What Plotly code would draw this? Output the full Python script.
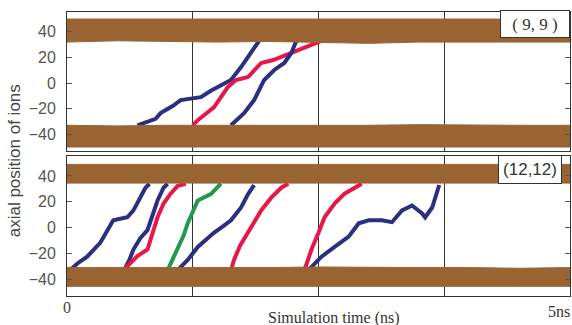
import plotly.graph_objects as go

# ---------------- data ----------------
# Panel (9,9): time (ns) and axial position of moving ions
t99_navy1 = [0.70, 0.80, 0.88, 0.93, 1.05, 1.13, 1.23, 1.33, 1.43, 1.53, 1.63, 1.73, 1.83, 1.91]
z99_navy1 = [-33, -30, -28, -23.5, -18, -13.3, -11.8, -11, -6, -1.6, 2.4, 12.5, 23.5, 33]
t99_red = [1.25, 1.30, 1.38, 1.46, 1.53, 1.60, 1.68, 1.80, 1.93, 2.05, 2.13, 2.30, 2.46, 2.56]
z99_red = [-33, -29, -24, -19, -11, -3, 2.4, 4.7, 15.7, 18, 20.4, 25.9, 31.4, 34]
t99_navy2 = [1.63, 1.70, 1.76, 1.86, 1.96, 2.06, 2.16, 2.23, 2.28]
z99_navy2 = [-33, -28, -23.5, -13.3, 2.4, 10.2, 15.7, 23.5, 33]

# Panel (12,12)
t12_navyA = [0.03, 0.10, 0.20, 0.33, 0.46, 0.53, 0.60, 0.66, 0.73, 0.78, 0.82]
z12_navyA = [-33, -28, -22.5, -11.8, 5.7, 7.2, 8, 13.3, 23.2, 30.9, 34]
t12_navyB = [0.58, 0.62, 0.66, 0.73, 0.80, 0.90, 0.96, 1.00]
z12_navyB = [-31, -25, -17, -8, -2, 21, 30.9, 34]
t12_redA = [0.56, 0.62, 0.70, 0.80, 0.86, 0.90, 0.96, 1.03, 1.10, 1.18]
z12_redA = [-33, -28, -22, -17, -2, 8, 18.7, 26.3, 32.4, 34]
t12_greenA = [1.00, 1.05, 1.10, 1.16, 1.20, 1.30, 1.43, 1.53]
z12_greenA = [-33, -24, -15, -6, 3.4, 21, 26, 34]
t12_navyC = [1.10, 1.20, 1.30, 1.38, 1.46, 1.55, 1.63, 1.73, 1.80, 1.86]
z12_navyC = [-33, -25, -15, -9, -4, 1, 5.7, 15.6, 26, 33]
t12_redB = [1.63, 1.66, 1.72, 1.80, 1.86, 1.93, 2.03, 2.13, 2.20]
z12_redB = [-33, -25, -14, -4, 3.4, 13.3, 23.2, 30.9, 34]
t12_redC = [2.36, 2.43, 2.50, 2.56, 2.66, 2.76, 2.86, 2.93]
z12_redC = [-33, -17, -4, 8, 18.7, 26.3, 30.9, 34]
t12_navyD = [2.40, 2.53, 2.66, 2.80, 2.90, 3.00, 3.13, 3.23, 3.33, 3.43, 3.53, 3.56, 3.63, 3.70]
z12_navyD = [-33, -22.5, -15, -7, 3.4, 5.7, 5.7, 4.2, 13.3, 17.1, 11, 8, 15.6, 33]

# Bound ions (brown bands): upper / lower edges over time
band_t = [0, 0.5, 1.0, 1.5, 2.0, 2.5, 3.0, 3.5, 4.0, 4.5, 5.0]
p1_top_hi = [50, 50, 50.5, 50, 50, 50.5, 50, 50, 50.5, 50, 50]
p1_top_lo = [32, 33, 32.5, 32, 32.5, 32, 31, 32, 31.5, 32, 32]
p1_bot_hi = [-33, -33.5, -33, -33, -33.5, -33, -33, -32.5, -33, -33, -33]
p1_bot_lo = [-50, -50, -50.5, -50, -50, -50, -50, -50.5, -50, -50, -50]
p2_top_hi = [49, 49, 48.5, 49, 49, 49, 48.5, 49, 49, 49, 49]
p2_top_lo = [34.5, 34, 34.5, 34.5, 34, 34.5, 34.5, 34, 34.5, 34.5, 34.5]
p2_bot_hi = [-31, -31, -31.5, -31, -31, -30.5, -31, -31, -31, -31.5, -31]
p2_bot_lo = [-45.5, -45.5, -45, -45.5, -45.5, -45.5, -45, -45.5, -45.5, -45.5, -45.5]

y_ticks = [-40, -20, 0, 20, 40]
x_grid = [1.25, 2.5, 3.75]

NAVY = "#2a2f80"
RED = "#e8174a"
GREEN = "#1f9a4e"
BROWN = "#9a6332"

fig = go.Figure()

def traj(t, z, color, ax):
    fig.add_trace(go.Scatter(x=t, y=z, mode="lines", line=dict(color=color, width=4),
                             xaxis=ax[0], yaxis=ax[1], showlegend=False, hoverinfo="skip"))

def band(hi, lo, ax):
    fig.add_trace(go.Scatter(x=band_t + band_t[::-1], y=hi + lo[::-1], mode="lines",
                             fill="toself", fillcolor=BROWN, line=dict(color=BROWN, width=1),
                             xaxis=ax[0], yaxis=ax[1], showlegend=False, hoverinfo="skip"))

A1 = ("x", "y")
A2 = ("x2", "y2")
traj(t99_navy1, z99_navy1, NAVY, A1)
traj(t99_red, z99_red, RED, A1)
traj(t99_navy2, z99_navy2, NAVY, A1)
band(p1_top_hi, p1_top_lo, A1)
band(p1_bot_hi, p1_bot_lo, A1)

traj(t12_navyA, z12_navyA, NAVY, A2)
traj(t12_navyB, z12_navyB, NAVY, A2)
traj(t12_redA, z12_redA, RED, A2)
traj(t12_greenA, z12_greenA, GREEN, A2)
traj(t12_navyC, z12_navyC, NAVY, A2)
traj(t12_redB, z12_redB, RED, A2)
traj(t12_redC, z12_redC, RED, A2)
traj(t12_navyD, z12_navyD, NAVY, A2)
band(p2_top_hi, p2_top_lo, A2)
band(p2_bot_hi, p2_bot_lo, A2)

tickfont = dict(family="Liberation Sans, Arial, sans-serif", size=16, color="#555")
xcommon = dict(range=[0, 5], tickvals=x_grid, showticklabels=False, showgrid=True,
               gridcolor="#333", gridwidth=1, showline=True, mirror=True, linecolor="#333",
               linewidth=1, zeroline=False, ticks="")
ycommon = dict(range=[-53, 55.5], tickvals=y_ticks, ticks="inside", ticklen=5, tickcolor="#555",
               showline=True, mirror="ticks", linecolor="#333", linewidth=1, showgrid=False,
               zeroline=False, tickfont=tickfont, ticklabelstandoff=7, automargin=False)

fig.update_layout(
    width=572, height=325,
    margin=dict(l=67, r=2, t=12, b=29),
    paper_bgcolor="white", plot_bgcolor="white",
    xaxis=dict(domain=[0, 1], anchor="y", **xcommon),
    yaxis=dict(domain=[0.511, 1], anchor="x", **ycommon),
    xaxis2=dict(domain=[0, 1], anchor="y2", **xcommon),
    yaxis2=dict(domain=[0, 0.493], anchor="x2", **ycommon),
    showlegend=False,
)

serif = "Liberation Serif, Times New Roman, serif"
sans = "Liberation Sans, Arial, sans-serif"
fig.add_annotation(text="( 9, 9 )", xref="paper", yref="paper", x=1.0, y=1.008,
                   xanchor="right", yanchor="top", showarrow=False, width=64, height=22,
                   bgcolor="white", bordercolor="#333", borderwidth=1, borderpad=2,
                   font=dict(family=serif, size=17, color="#333"))
fig.add_annotation(text="(12,12)", xref="paper", yref="paper", x=0.984, y=0.496,
                   xanchor="right", yanchor="top", showarrow=False, width=58, height=23,
                   bgcolor="white", bordercolor="#333", borderwidth=1, borderpad=2,
                   font=dict(family=sans, size=17, color="#333"))
fig.add_annotation(text="axial position of ions", xref="paper", yref="paper", x=-0.105, y=0.475,
                   xanchor="center", yanchor="middle", textangle=-90, showarrow=False,
                   font=dict(family=sans, size=17, color="#444"))
fig.add_annotation(text="0", xref="paper", yref="paper", x=0, y=-0.039, xanchor="center",
                   yanchor="middle", showarrow=False, font=dict(family=serif, size=16, color="#444"))
fig.add_annotation(text="5ns", xref="paper", yref="paper", x=1.004, y=-0.053, xanchor="right",
                   yanchor="middle", showarrow=False, font=dict(family=serif, size=16, color="#333"))
fig.add_annotation(text="Simulation time (ns)", xref="paper", yref="paper", x=0.531, y=-0.077,
                   xanchor="center", yanchor="middle", showarrow=False,
                   font=dict(family=serif, size=16, color="#333"))

fig.write_html("out.html", config={"displayModeBar": False},
               post_script="document.body.style.margin='0';")
